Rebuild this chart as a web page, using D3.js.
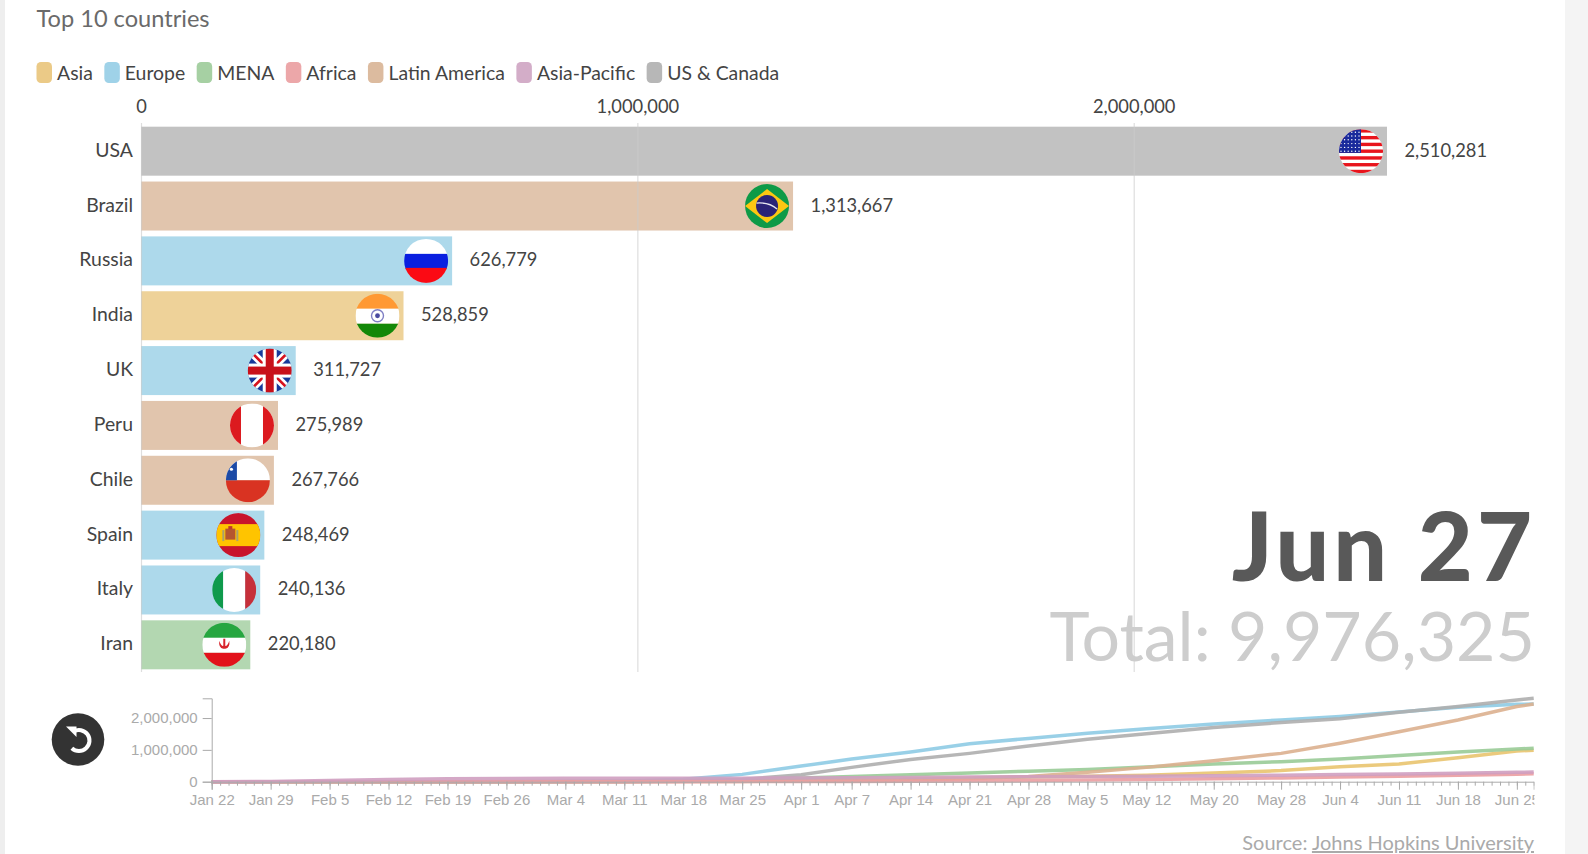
<!DOCTYPE html>
<html>
<head>
<meta charset="utf-8">
<script src="https://cdn.jsdelivr.net/npm/d3@7"></script>
<style>
    html, body { margin: 0; padding: 0; background: #fff; overflow: hidden; }
    svg { display: block; }
    text { font-family: Lato, "Noto Sans", sans-serif; }
    .mini text { font-family: "Liberation Sans", Arial, sans-serif; }
</style>
</head>
<body>
<svg width="1588" height="854"></svg>
<script>
// bars
const countries = ['USA', 'Brazil', 'Russia', 'India', 'UK', 'Peru', 'Chile', 'Spain', 'Italy', 'Iran'];
const cases = [2510281, 1313667, 626779, 528859, 311727, 275989, 267766, 248469, 240136, 220180];
const countryRegions = ['US & Canada', 'Latin America', 'Europe', 'Asia', 'Europe', 'Latin America', 'Latin America', 'Europe', 'Europe', 'MENA'];
const barTicks = [0, 1000000, 2000000];

// legend
const regions = ['Asia', 'Europe', 'MENA', 'Africa', 'Latin America', 'Asia-Pacific', 'US & Canada'];
const regionColors = ['#ebca87', '#9fd2e8', '#a6d0a3', '#eca7a9', '#dcbb9f', '#d3adc8', '#b7b7b7'];
const lineColors = ['#e9c46f', '#8ecbe4', '#99cb97', '#eb9da1', '#dcb08f', '#cf9fc0', '#aeaeae'];

// small line chart at the bottom
const tickDates = ['2020-01-22', '2020-01-29', '2020-02-05', '2020-02-12', '2020-02-19', '2020-02-26', '2020-03-04', '2020-03-11',
    '2020-03-18', '2020-03-25', '2020-04-01', '2020-04-07', '2020-04-14', '2020-04-21', '2020-04-28', '2020-05-05',
    '2020-05-12', '2020-05-20', '2020-05-28', '2020-06-04', '2020-06-11', '2020-06-18', '2020-06-25'];
const lastDate = '2020-06-27';
const lineTicks = [0, 1000000, 2000000];

// millions, one value per tick date and then the last date
const asiaLine = [0, 0, .001, .001, .002, .003, .004, .006, .02, .035, .05, .07, .09, .12, .15, .175, .2, .27, .35, .47, .556, .755, .965, .99];
const europeLine = [0, 0, 0, 0, 0, .001, .003, .02, .08, .23, .49, .71, .93, 1.19, 1.36, 1.52, 1.66, 1.81, 1.94, 2.05, 2.19, 2.34, 2.43, 2.44];
const menaLine = [0, 0, 0, 0, 0, .001, .004, .012, .03, .06, .12, .16, .22, .27, .33, .38, .46, .556, .63, .71, .82, .93, 1.03, 1.05];
const africaLine = [0, 0, 0, 0, 0, 0, 0, .001, .001, .003, .006, .01, .017, .024, .035, .05, .07, .09, .12, .145, .17, .2, .235, .25];
const latamLine = [0, 0, 0, 0, 0, 0, .001, .002, .003, .008, .018, .03, .05, .09, .16, .3, .45, .66, .89, 1.21, 1.57, 1.94, 2.36, 2.44];
const pacificLine = [.001, .01, .035, .07, .09, .1, .105, .108, .11, .112, .118, .125, .135, .145, .155, .165, .175, .19, .205, .225, .245, .265, .295, .305];
const usLine = [0, 0, 0, 0, 0, 0, 0, .001, .012, .07, .22, .45, .7, .89, 1.12, 1.33, 1.51, 1.7, 1.86, 1.98, 2.18, 2.36, 2.57, 2.62];

var svg = d3.select('svg');
var parseDate = d3.utcParse('%Y-%m-%d');
var fmt = d3.format(',');

// page frame
svg.append('rect').attr('width', 5).attr('height', 854).attr('fill', '#eeeeee');
svg.append('rect').attr('x', 1565).attr('width', 23).attr('height', 854).attr('fill', '#f4f4f4');

// title
svg.append('text')
    .attr('x', 36.5)
    .attr('y', 27)
    .attr('font-size', 23.6)
    .attr('fill', '#6a6a6a')
    .text('Top 10 countries');

// legend, each entry flows after the one before it
var legendX = 36.5;
regions.forEach(function(name, i) {
    svg.append('rect')
        .attr('x', legendX).attr('y', 62)
        .attr('width', 15.5).attr('height', 21)
        .attr('rx', 4.5)
        .attr('fill', regionColors[i]);
    var label = svg.append('text')
        .attr('x', legendX + 20.5)
        .attr('y', 80)
        .attr('font-size', 19.4)
        .attr('fill', '#444')
        .text(name);
    legendX += 20.5 + label.node().getComputedTextLength() + 11.5;
});

// **** Bar chart ****
var xScale = d3.scaleLinear()
    .domain([0, cases[0]])
    .range([141, 1387]);

var yScale = d3.scaleBand()
    .domain(countries)
    .range([126.7, 669.3])
    .paddingInner(0.107);

svg.append('g')
    .selectAll('rect')
    .data(countries)
    .enter()
    .append('rect')
    .attr('x', xScale(0))
    .attr('y', d => yScale(d))
    .attr('width', (d, i) => xScale(cases[i]) - xScale(0))
    .attr('height', yScale.bandwidth())
    .attr('fill', (d, i) => regionColors[regions.indexOf(countryRegions[i])])
    .attr('fill-opacity', 0.85);

// grid and labels from the axis
var barAxis = svg.append('g')
    .attr('transform', 'translate(0,123)')
    .call(d3.axisTop(xScale)
        .tickValues(barTicks)
        .tickFormat(fmt)
        .tickSizeInner(-549)
        .tickSizeOuter(0)
        .tickPadding(10));
barAxis.select('.domain').remove();
barAxis.selectAll('line').attr('stroke', '#cccccc').attr('stroke-opacity', 0.65).attr('stroke-width', 1.2);
barAxis.selectAll('text')
    .attr('font-family', 'Lato, "Noto Sans", sans-serif')
    .attr('font-size', 18.3)
    .attr('fill', '#444');

// country names
svg.append('g')
    .selectAll('text')
    .data(countries)
    .enter()
    .append('text')
    .attr('x', xScale(0) - 8)
    .attr('y', d => yScale(d) + yScale.bandwidth() / 2 + 5.5)
    .attr('text-anchor', 'end')
    .attr('font-size', 19.4)
    .attr('fill', '#444')
    .text(d => d);

// values
svg.append('g')
    .selectAll('text')
    .data(countries)
    .enter()
    .append('text')
    .attr('x', (d, i) => xScale(cases[i]) + 17.5)
    .attr('y', d => yScale(d) + yScale.bandwidth() / 2 + 5.5)
    .attr('font-size', 18.3)
    .attr('fill', '#444')
    .text((d, i) => fmt(cases[i]));

// **** Flags, drawn in a local box from -22 to 22 and clipped to a circle ****
svg.append('defs').append('clipPath')
    .attr('id', 'flagClip')
    .append('circle').attr('r', 22);

function band(g, x, y, w, h, color) {
    return g.append('rect').attr('x', x).attr('y', y).attr('width', w).attr('height', h).attr('fill', color);
}

const flagPainters = {
    USA: function(g) {
        band(g, -22, -22, 44, 44, '#fff');
        d3.range(0, 13, 2).forEach(s => band(g, -22, -22 + s * 44 / 13, 44, 44 / 13, '#e8141c'));
        band(g, -22, -22, 22, 23.7, '#1a2a9c');
        d3.range(6).forEach(r => d3.range(6).forEach(c => {
            g.append('circle').attr('cx', -20 + c * 3.6).attr('cy', -19 + r * 3.8).attr('r', 0.7).attr('fill', '#fff');
        }));
    },
    Brazil: function(g) {
        band(g, -22, -22, 44, 44, '#0e9a47');
        g.append('path').attr('d', 'M-22,0L0,-17L22,0L0,17Z').attr('fill', '#fcc712');
        g.append('circle').attr('r', 11).attr('fill', '#2a2377');
        g.append('path').attr('d', 'M-10.5,-3Q2,-4 10,3').attr('fill', 'none').attr('stroke', '#e6e6f0').attr('stroke-width', 1.3);
    },
    Russia: function(g) {
        band(g, -22, -22, 44, 15, '#fff');
        band(g, -22, -7, 44, 15, '#0a1fe0');
        band(g, -22, 7, 44, 15, '#fb0a14');
    },
    India: function(g) {
        band(g, -22, -22, 44, 15, '#ff9933');
        band(g, -22, -7, 44, 15, '#fff');
        band(g, -22, 8, 44, 14, '#138808');
        g.append('circle').attr('r', 6).attr('fill', 'none').attr('stroke', '#7f7fc4').attr('stroke-width', 1.4);
        g.append('circle').attr('r', 2.4).attr('fill', '#4a4aa0');
    },
    UK: function(g) {
        band(g, -22, -22, 44, 44, '#17399b');
        g.append('path').attr('d', 'M-22,-22L22,22M22,-22L-22,22').attr('stroke', '#fff').attr('stroke-width', 8);
        g.append('path').attr('d', 'M-22,-22L22,22M22,-22L-22,22').attr('stroke', '#d5121e').attr('stroke-width', 2.6);
        band(g, -7, -22, 14, 44, '#fff');
        band(g, -22, -7, 44, 14, '#fff');
        band(g, -4, -22, 8, 44, '#c8101a');
        band(g, -22, -4, 44, 8, '#c8101a');
    },
    Peru: function(g) {
        band(g, -22, -22, 44, 44, '#fff');
        band(g, -22, -22, 11, 44, '#dc1a1f');
        band(g, 11, -22, 11, 44, '#dc1a1f');
    },
    Chile: function(g) {
        band(g, -22, -22, 44, 22, '#fff');
        band(g, -22, 0, 44, 22, '#d93322');
        band(g, -22, -22, 11, 22, '#1c4aa6');
        g.append('circle').attr('cx', -16.5).attr('cy', -11).attr('r', 1.6).attr('fill', '#fff');
    },
    Spain: function(g) {
        band(g, -22, -22, 44, 44, '#c8142c');
        band(g, -22, -11, 44, 22, '#ffc400');
        band(g, -13, -6.5, 10, 11, '#b5562f');
        band(g, -16, -5, 2, 11, '#a8a070');
        band(g, -2, -5, 2, 11, '#a8a070');
        band(g, -10, -9, 4, 3, '#c0392b');
    },
    Italy: function(g) {
        band(g, -22, -22, 11, 44, '#0f9a4c');
        band(g, -11, -22, 22, 44, '#fff');
        band(g, 11, -22, 11, 44, '#c6303a');
    },
    Iran: function(g) {
        band(g, -22, -22, 44, 15, '#26a640');
        band(g, -22, -7, 44, 15, '#fff');
        band(g, -22, 8, 44, 14, '#e2121a');
        g.append('path').attr('d', 'M-5,-4Q-6,3 -1,4L1,4Q6,3 5,-4Q3,2 1,1L1,-6L-1,-6L-1,1Q-3,2 -5,-4Z').attr('fill', '#d8242c');
    }
};

countries.forEach(function(name, i) {
    var flag = svg.append('g')
        .attr('transform', 'translate(' + (xScale(cases[i]) - 26) + ',' + (yScale(name) + yScale.bandwidth() / 2) + ')')
        .attr('clip-path', 'url(#flagClip)');
    flagPainters[name](flag);
});

// date and total
svg.append('text')
    .attr('x', 1536)
    .attr('y', 581)
    .attr('text-anchor', 'end')
    .attr('font-size', 95)
    .attr('font-weight', 900)
    .attr('letter-spacing', 4)
    .attr('fill', '#595959')
    .text('Jun 27');

svg.append('text')
    .attr('x', 1535)
    .attr('y', 661)
    .attr('text-anchor', 'end')
    .attr('font-size', 68)
    .attr('fill', '#cdcdcd')
    .text('Total: 9,976,325');

// **** Small line chart ****
var lineDates = tickDates.concat([lastDate]).map(parseDate);
var lineSeries = [asiaLine, europeLine, menaLine, latamLine, usLine, africaLine, pacificLine];
var lineSeriesColors = [lineColors[0], lineColors[1], lineColors[2], lineColors[4], lineColors[6], lineColors[3], lineColors[5]];

var timeScale = d3.scaleUtc()
    .domain(d3.extent(lineDates))
    .range([211.7, 1533.7]);

var valueScale = d3.scaleLinear()
    .domain([0, 2620000])
    .range([781.7, 698.3]);

svg.append('defs').append('clipPath')
    .attr('id', 'miniClip')
    .append('rect').attr('x', 100).attr('y', 690).attr('width', 1434.5).attr('height', 130);

var mini = svg.append('g').attr('class', 'mini').attr('clip-path', 'url(#miniClip)');

var line = d3.line()
    .x((d, i) => timeScale(lineDates[i]))
    .y(d => valueScale(d * 1000000));

mini.selectAll('path.series')
    .data(lineSeries)
    .enter()
    .append('path')
    .attr('class', 'series')
    .attr('d', line)
    .attr('fill', 'none')
    .attr('stroke', (d, i) => lineSeriesColors[i])
    .attr('stroke-width', 3.5)
    .attr('stroke-opacity', 0.9);

// one small tick per day
var dayAxis = mini.append('g')
    .attr('transform', 'translate(0,781.7)')
    .call(d3.axisBottom(timeScale)
        .tickValues(d3.utcDay.range(lineDates[0], d3.utcDay.offset(lineDates[lineDates.length - 1], 1)))
        .tickFormat('')
        .tickSizeInner(4)
        .tickSizeOuter(8));
dayAxis.selectAll('path, line').attr('stroke', '#aaa');

var dateAxis = mini.append('g')
    .attr('transform', 'translate(0,781.7)')
    .call(d3.axisBottom(timeScale)
        .tickValues(tickDates.map(parseDate))
        .tickFormat(d3.utcFormat('%b %-d'))
        .tickSizeInner(8)
        .tickSizeOuter(0)
        .tickPadding(5));
dateAxis.select('.domain').remove();
dateAxis.selectAll('line').attr('stroke', '#aaa');
dateAxis.selectAll('text')
    .attr('font-family', '"Liberation Sans", Arial, sans-serif')
    .attr('font-size', 15)
    .attr('fill', '#aaa');

var valueAxis = mini.append('g')
    .attr('transform', 'translate(211.7,0)')
    .call(d3.axisLeft(valueScale)
        .tickValues(lineTicks)
        .tickFormat(fmt)
        .tickSizeInner(9)
        .tickSizeOuter(9)
        .tickPadding(5));
valueAxis.selectAll('path, line').attr('stroke', '#aaa');
valueAxis.selectAll('text')
    .attr('font-family', '"Liberation Sans", Arial, sans-serif')
    .attr('font-size', 15)
    .attr('fill', '#aaa');

// replay button
var replay = svg.append('g').attr('transform', 'translate(78,739.5)');
replay.append('circle').attr('r', 26.3).attr('fill', '#333');
replay.append('path')
    .attr('d', d3.arc()({ innerRadius: 8.5, outerRadius: 12.5, startAngle: -0.55, endAngle: Math.PI + 0.75 }))
    .attr('transform', 'translate(1,1)')
    .attr('fill', '#fff');
replay.append('path').attr('d', 'M-12,-13L-1.5,-13L-1.5,-2.5Z').attr('fill', '#fff');

// source
var source = svg.append('text')
    .attr('x', 1534)
    .attr('y', 850)
    .attr('text-anchor', 'end')
    .attr('font-size', 20)
    .attr('fill', '#aaa');
source.append('tspan').text('Source: ');
source.append('tspan').attr('text-decoration', 'underline').text('Johns Hopkins University');
</script>
</body>
</html>
